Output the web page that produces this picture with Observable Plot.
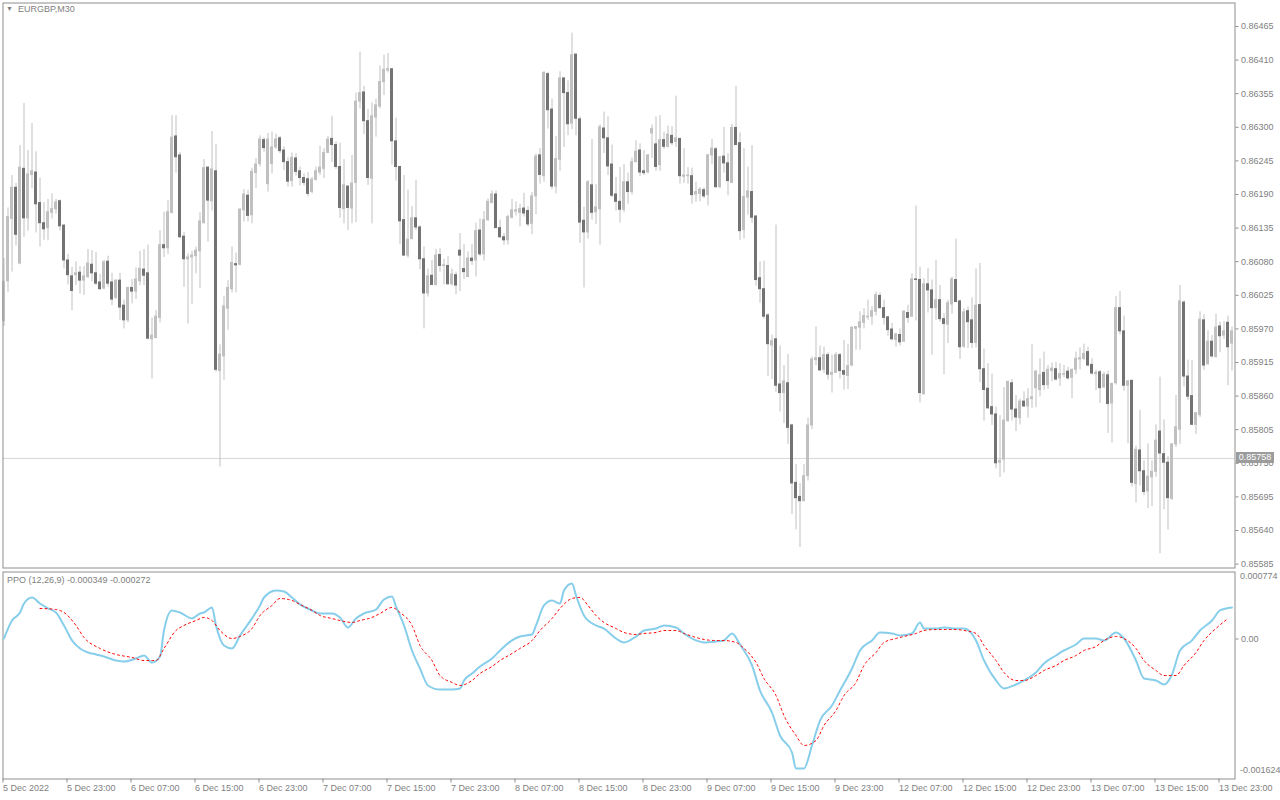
<!DOCTYPE html>
<html><head><meta charset="utf-8">
<script src="https://cdn.jsdelivr.net/npm/d3@7"></script>
<script src="https://cdn.jsdelivr.net/npm/@observablehq/plot@0.6"></script>
<style>
html,body{margin:0;padding:0;background:#fff;}
body{width:1280px;height:800px;overflow:hidden;position:relative;font-family:"Liberation Sans",Arial,sans-serif;}
#main,#ppo{position:absolute;left:0;}
#main{top:0;} #ppo{top:570px;}
.lbl{position:absolute;font-size:9px;color:#808080;white-space:nowrap;line-height:11px;}
#bid{position:absolute;left:1236px;width:38px;height:11px;background:#9c9c9c;color:#fff;font-size:9px;line-height:11px;text-align:center;}
</style></head><body>
<div id="main"></div>
<div id="ppo"></div>
<div class="lbl" id="title" style="left:6px;top:4px;"><span style="font-size:7px;position:relative;top:-1px;">&#9660;</span>&nbsp;&nbsp;<span id="sym"></span></div>
<div class="lbl" id="ppoTitle" style="left:7px;top:575px;"></div>
<div id="bid"></div>
<script>
// ---- data (EURGBP, M30) ----
const symbolTitle = "EURGBP,M30";
const open = [0.85983,0.86048,0.86150,0.86201,0.86077,0.86232,0.86151,0.86222,0.86226,0.86176,0.86143,0.86135,0.86160,0.86166,0.86179,0.86139,0.86082,0.86056,0.86058,0.86062,0.86049,0.86055,0.86075,0.86061,0.86046,0.86036,0.86080,0.86046,0.86021,0.86049,0.86008,0.85984,0.86037,0.86031,0.86048,0.86067,0.86061,0.85953,0.85955,0.85988,0.86107,0.86102,0.86160,0.86285,0.86254,0.86121,0.86084,0.86087,0.86089,0.86097,0.86143,0.86234,0.86179,0.86228,0.85901,0.85925,0.86003,0.86035,0.86076,0.86075,0.86164,0.86188,0.86156,0.86225,0.86240,0.86279,0.86207,0.86240,0.86267,0.86282,0.86262,0.86243,0.86212,0.86249,0.86228,0.86217,0.86215,0.86194,0.86214,0.86226,0.86232,0.86258,0.86281,0.86271,0.86235,0.86166,0.86203,0.86167,0.86209,0.86342,0.86357,0.86310,0.86216,0.86316,0.86334,0.86374,0.86393,0.86395,0.86277,0.86235,0.86148,0.86090,0.86117,0.86151,0.86136,0.86084,0.86028,0.86057,0.86042,0.86091,0.86073,0.86073,0.86043,0.86058,0.86098,0.86068,0.86055,0.86085,0.86082,0.86131,0.86092,0.86148,0.86176,0.86190,0.86135,0.86120,0.86115,0.86152,0.86162,0.86160,0.86167,0.86163,0.86142,0.86187,0.86254,0.86220,0.86387,0.86329,0.86203,0.86247,0.86380,0.86356,0.86306,0.86419,0.86313,0.86147,0.86128,0.86205,0.86161,0.86166,0.86298,0.86282,0.86239,0.86190,0.86178,0.86165,0.86210,0.86194,0.86243,0.86262,0.86228,0.86226,0.86290,0.86272,0.86238,0.86279,0.86268,0.86286,0.86276,0.86281,0.86219,0.86220,0.86220,0.86190,0.86191,0.86197,0.86189,0.86254,0.86264,0.86202,0.86252,0.86241,0.86209,0.86299,0.86274,0.86132,0.86185,0.86194,0.86154,0.86053,0.86035,0.85992,0.85943,0.85953,0.85879,0.85865,0.85881,0.85812,0.85718,0.85695,0.85688,0.85729,0.85812,0.85919,0.85922,0.85903,0.85927,0.85895,0.85898,0.85927,0.85901,0.85893,0.85910,0.85970,0.85972,0.85980,0.85989,0.85990,0.85998,0.86024,0.86004,0.85989,0.85969,0.85952,0.85960,0.85949,0.85996,0.85990,0.86051,0.86050,0.85863,0.86043,0.86033,0.86004,0.86017,0.85986,0.85977,0.86010,0.86050,0.86015,0.85941,0.85999,0.85984,0.85947,0.86009,0.85904,0.85872,0.85842,0.85830,0.85751,0.85756,0.85819,0.85881,0.85838,0.85824,0.85851,0.85843,0.85855,0.85873,0.85870,0.85898,0.85878,0.85901,0.85904,0.85889,0.85895,0.85900,0.85890,0.85903,0.85920,0.85921,0.85932,0.85911,0.85896,0.85899,0.85874,0.85894,0.85848,0.85881,0.86004,0.85966,0.85877,0.85885,0.85716,0.85771,0.85737,0.85704,0.85727,0.85736,0.85802,0.85765,0.85751,0.85692,0.85781,0.85805,0.86013,0.85892,0.85860,0.85813,0.85829,0.85984,0.85912,0.85949,0.85924,0.85974,0.85959,0.85980,0.85946];
const high = [0.86085,0.86168,0.86221,0.86208,0.86270,0.86339,0.86262,0.86306,0.86260,0.86217,0.86177,0.86182,0.86191,0.86182,0.86181,0.86141,0.86092,0.86071,0.86080,0.86072,0.86072,0.86100,0.86098,0.86095,0.86059,0.86082,0.86089,0.86061,0.86050,0.86061,0.86017,0.86038,0.86051,0.86070,0.86097,0.86100,0.86107,0.85988,0.86000,0.86131,0.86161,0.86180,0.86319,0.86319,0.86259,0.86128,0.86093,0.86097,0.86104,0.86160,0.86247,0.86235,0.86293,0.86272,0.85944,0.86023,0.86049,0.86104,0.86094,0.86167,0.86198,0.86197,0.86233,0.86249,0.86286,0.86283,0.86290,0.86292,0.86289,0.86285,0.86268,0.86250,0.86258,0.86257,0.86235,0.86224,0.86226,0.86218,0.86235,0.86269,0.86265,0.86285,0.86318,0.86276,0.86274,0.86247,0.86204,0.86254,0.86356,0.86423,0.86367,0.86329,0.86340,0.86346,0.86400,0.86418,0.86421,0.86396,0.86315,0.86236,0.86221,0.86197,0.86170,0.86213,0.86139,0.86104,0.86068,0.86082,0.86100,0.86101,0.86084,0.86088,0.86068,0.86063,0.86126,0.86108,0.86096,0.86108,0.86143,0.86150,0.86162,0.86183,0.86196,0.86196,0.86148,0.86126,0.86156,0.86182,0.86178,0.86174,0.86192,0.86170,0.86193,0.86256,0.86265,0.86391,0.86390,0.86346,0.86285,0.86391,0.86381,0.86376,0.86454,0.86420,0.86317,0.86169,0.86213,0.86280,0.86206,0.86304,0.86325,0.86317,0.86271,0.86218,0.86234,0.86239,0.86225,0.86250,0.86278,0.86273,0.86262,0.86255,0.86304,0.86317,0.86319,0.86292,0.86302,0.86301,0.86351,0.86282,0.86265,0.86234,0.86233,0.86210,0.86201,0.86201,0.86256,0.86280,0.86267,0.86252,0.86300,0.86257,0.86305,0.86367,0.86291,0.86265,0.86235,0.86270,0.86155,0.86080,0.86081,0.85995,0.85960,0.86140,0.85942,0.85910,0.85928,0.85814,0.85748,0.85717,0.85748,0.85824,0.85924,0.85973,0.85942,0.85940,0.85931,0.85927,0.85931,0.85930,0.85951,0.85945,0.85973,0.85974,0.85998,0.86003,0.86017,0.86006,0.86030,0.86029,0.86017,0.85990,0.85979,0.85963,0.85970,0.86000,0.86009,0.86060,0.86171,0.86071,0.86052,0.86069,0.86050,0.86082,0.86041,0.85995,0.86017,0.86055,0.86117,0.86017,0.86003,0.86006,0.86021,0.86068,0.86077,0.85937,0.85913,0.85896,0.85842,0.85828,0.85874,0.85885,0.85887,0.85861,0.85855,0.85867,0.85872,0.85944,0.85902,0.85921,0.85932,0.85910,0.85914,0.85915,0.85913,0.85910,0.85907,0.85904,0.85932,0.85939,0.85945,0.85940,0.85921,0.85902,0.85902,0.85899,0.85901,0.85881,0.86023,0.86031,0.85991,0.85886,0.85886,0.85778,0.85837,0.85754,0.85782,0.85754,0.85813,0.85891,0.85821,0.85761,0.85782,0.85861,0.86041,0.86016,0.85919,0.85918,0.85833,0.85998,0.85993,0.85967,0.85959,0.85994,0.85981,0.85982,0.85991,0.85973];
const low = [0.85974,0.86030,0.86063,0.86106,0.86075,0.86120,0.86130,0.86199,0.86127,0.86104,0.86115,0.86115,0.86150,0.86158,0.86130,0.86068,0.86042,0.86000,0.86041,0.86027,0.86025,0.86052,0.86047,0.86041,0.86033,0.86034,0.86038,0.86008,0.86018,0.85984,0.85970,0.85980,0.86011,0.86018,0.86041,0.86041,0.85952,0.85888,0.85954,0.85980,0.86087,0.86092,0.86158,0.86225,0.86118,0.86038,0.85978,0.86010,0.86060,0.86036,0.86142,0.86112,0.86163,0.85899,0.85744,0.85886,0.85968,0.86029,0.86029,0.86073,0.86145,0.86145,0.86142,0.86200,0.86235,0.86259,0.86194,0.86224,0.86264,0.86257,0.86229,0.86202,0.86202,0.86220,0.86204,0.86204,0.86186,0.86191,0.86212,0.86221,0.86216,0.86257,0.86242,0.86231,0.86151,0.86142,0.86131,0.86142,0.86144,0.86330,0.86288,0.86205,0.86142,0.86284,0.86330,0.86352,0.86389,0.86238,0.86212,0.86108,0.86089,0.86086,0.86116,0.86131,0.86067,0.85970,0.86022,0.86041,0.86040,0.86063,0.86042,0.86042,0.86040,0.86026,0.86031,0.86051,0.86054,0.86074,0.86055,0.86088,0.86081,0.86146,0.86175,0.86134,0.86118,0.86107,0.86107,0.86150,0.86155,0.86137,0.86153,0.86137,0.86124,0.86157,0.86207,0.86210,0.86297,0.86198,0.86191,0.86228,0.86267,0.86286,0.86296,0.86286,0.86110,0.86037,0.86117,0.86148,0.86141,0.86107,0.86257,0.86221,0.86185,0.86163,0.86143,0.86160,0.86174,0.86189,0.86242,0.86219,0.86221,0.86224,0.86249,0.86228,0.86228,0.86264,0.86266,0.86270,0.86267,0.86207,0.86208,0.86207,0.86174,0.86177,0.86178,0.86183,0.86171,0.86239,0.86200,0.86200,0.86225,0.86188,0.86208,0.86270,0.86115,0.86117,0.86156,0.86143,0.86040,0.86012,0.85986,0.85892,0.85887,0.85866,0.85834,0.85815,0.85781,0.85666,0.85641,0.85612,0.85687,0.85721,0.85805,0.85910,0.85901,0.85897,0.85886,0.85865,0.85897,0.85888,0.85870,0.85871,0.85908,0.85935,0.85935,0.85970,0.85984,0.85976,0.85991,0.86002,0.85976,0.85958,0.85950,0.85940,0.85942,0.85949,0.85979,0.85989,0.85983,0.85849,0.85862,0.85996,0.85927,0.85984,0.85981,0.85895,0.85946,0.85994,0.86013,0.85920,0.85938,0.85938,0.85938,0.85939,0.85882,0.85819,0.85838,0.85812,0.85741,0.85727,0.85734,0.85817,0.85819,0.85802,0.85813,0.85842,0.85824,0.85840,0.85841,0.85859,0.85869,0.85871,0.85884,0.85885,0.85876,0.85890,0.85886,0.85856,0.85895,0.85903,0.85918,0.85908,0.85894,0.85869,0.85848,0.85873,0.85799,0.85783,0.85878,0.85960,0.85868,0.85782,0.85711,0.85685,0.85713,0.85697,0.85676,0.85679,0.85727,0.85602,0.85674,0.85641,0.85689,0.85776,0.85781,0.85875,0.85853,0.85812,0.85797,0.85825,0.85902,0.85911,0.85922,0.85922,0.85931,0.85953,0.85877,0.85901];
const close = [0.86047,0.86153,0.86201,0.86124,0.86234,0.86151,0.86223,0.86228,0.86174,0.86143,0.86133,0.86161,0.86166,0.86177,0.86138,0.86082,0.86058,0.86032,0.86061,0.86049,0.86056,0.86077,0.86061,0.86044,0.86035,0.86079,0.86044,0.86018,0.86049,0.86005,0.85984,0.86037,0.86031,0.86051,0.86068,0.86057,0.85954,0.85959,0.85990,0.86107,0.86102,0.86161,0.86283,0.86251,0.86120,0.86084,0.86087,0.86090,0.86098,0.86146,0.86233,0.86180,0.86231,0.85903,0.85928,0.86007,0.86037,0.86078,0.86074,0.86165,0.86190,0.86155,0.86227,0.86239,0.86280,0.86266,0.86280,0.86267,0.86280,0.86261,0.86243,0.86211,0.86250,0.86227,0.86217,0.86209,0.86191,0.86214,0.86228,0.86234,0.86258,0.86280,0.86271,0.86235,0.86168,0.86205,0.86168,0.86208,0.86342,0.86356,0.86310,0.86217,0.86318,0.86336,0.86374,0.86394,0.86395,0.86277,0.86235,0.86146,0.86090,0.86116,0.86151,0.86136,0.86084,0.86028,0.86056,0.86042,0.86090,0.86073,0.86074,0.86043,0.86059,0.86041,0.86090,0.86063,0.86085,0.86081,0.86130,0.86092,0.86148,0.86178,0.86190,0.86135,0.86120,0.86115,0.86153,0.86164,0.86164,0.86166,0.86159,0.86141,0.86187,0.86252,0.86222,0.86389,0.86328,0.86203,0.86248,0.86380,0.86356,0.86305,0.86418,0.86314,0.86144,0.86128,0.86210,0.86160,0.86169,0.86300,0.86282,0.86236,0.86188,0.86178,0.86165,0.86210,0.86194,0.86243,0.86260,0.86226,0.86225,0.86254,0.86297,0.86235,0.86279,0.86268,0.86288,0.86274,0.86282,0.86220,0.86221,0.86221,0.86189,0.86194,0.86198,0.86187,0.86254,0.86265,0.86202,0.86251,0.86241,0.86212,0.86299,0.86271,0.86130,0.86186,0.86195,0.86152,0.86050,0.86035,0.85990,0.85945,0.85950,0.85877,0.85865,0.85884,0.85808,0.85717,0.85693,0.85688,0.85729,0.85812,0.85920,0.85922,0.85902,0.85927,0.85895,0.85898,0.85927,0.85901,0.85895,0.85909,0.85972,0.85973,0.85981,0.85991,0.85990,0.85999,0.86025,0.86004,0.85988,0.85968,0.85953,0.85961,0.85948,0.85998,0.85988,0.86051,0.86050,0.85865,0.86043,0.86033,0.86004,0.86017,0.85986,0.85978,0.86012,0.86051,0.86014,0.85940,0.85997,0.85981,0.85947,0.86008,0.85904,0.85870,0.85840,0.85830,0.85750,0.85754,0.85820,0.85883,0.85838,0.85825,0.85851,0.85843,0.85855,0.85858,0.85900,0.85894,0.85878,0.85903,0.85905,0.85887,0.85896,0.85896,0.85889,0.85903,0.85921,0.85922,0.85929,0.85910,0.85897,0.85898,0.85873,0.85895,0.85847,0.85880,0.86004,0.85966,0.85877,0.85884,0.85718,0.85772,0.85737,0.85703,0.85728,0.85736,0.85787,0.85766,0.85751,0.85693,0.85781,0.85809,0.86015,0.85892,0.85859,0.85813,0.85832,0.85985,0.85910,0.85949,0.85925,0.85972,0.85958,0.85966,0.85940,0.85966];

const priceTicks = [0.86465,0.86410,0.86355,0.86300,0.86245,0.86190,0.86135,0.86080,0.86025,0.85970,0.85915,0.85860,0.85805,0.85750,0.85695,0.85640,0.85585];
const bidPrice = 0.85758;

const timeTickBars = [0,16,32,48,64,80,96,112,128,144,160,176,192,208,224,240,256,272,288,304];
const timeLabels = ["5 Dec 2022","5 Dec 23:00","6 Dec 07:00","6 Dec 15:00","6 Dec 23:00","7 Dec 07:00","7 Dec 15:00","7 Dec 23:00","8 Dec 07:00","8 Dec 15:00","8 Dec 23:00","9 Dec 07:00","9 Dec 15:00","9 Dec 23:00","12 Dec 07:00","12 Dec 15:00","12 Dec 23:00","13 Dec 07:00","13 Dec 15:00","13 Dec 23:00"];

const ppoTitle = "PPO (12,26,9) -0.000349 -0.000272";
const ppoMax = 0.000774, ppoMin = -0.001624;

const ppoBar = [0,2,4,5,7,9,11,13,15,17,19,21,23,25,28,30,33,35,37,39,40,42,44,47,49,50,52,53,55,57,59,62,64,65,68,70,72,74,77,79,82,84,86,88,90,93,95,97,98,100,102,104,106,109,112,114,115,117,119,122,124,127,129,132,133,135,137,139,140,142,143,145,148,150,153,155,158,160,163,165,168,170,173,175,178,180,182,184,187,189,192,194,197,198,200,202,204,207,209,212,214,217,219,222,224,227,229,230,233,235,238,240,243,245,248,250,253,255,258,260,263,265,268,270,273,275,278,280,283,285,288,290,292,294,297,299,302,304,307];
const ppoValue = [0.000006,0.000228,0.000327,0.000438,0.000512,0.000438,0.000377,0.000327,0.000167,-0.000018,-0.000118,-0.000167,-0.000191,-0.000216,-0.000265,-0.000278,-0.000241,-0.000204,-0.000291,-0.000216,0.000105,0.000352,0.000327,0.000254,0.000315,0.000327,0.000389,0.000167,-0.000081,-0.000118,0.000043,0.000254,0.000414,0.000512,0.000599,0.000587,0.000512,0.000427,0.000352,0.000315,0.000315,0.000265,0.000142,0.000254,0.000315,0.000364,0.000488,0.000525,0.000401,0.000167,-0.000142,-0.000364,-0.000574,-0.000624,-0.000624,-0.000611,-0.000512,-0.000427,-0.000340,-0.000241,-0.000142,-0.000018,0.000031,0.000055,0.000167,0.000414,0.000475,0.000438,0.000599,0.000685,0.000537,0.000291,0.000167,0.000129,0.000006,-0.000043,0.000031,0.000105,0.000129,0.000167,0.000142,0.000068,-0.000018,-0.000043,-0.000031,-0.000018,0.000068,-0.000068,-0.000327,-0.000637,-0.000908,-0.001192,-0.001402,-0.001599,-0.001599,-0.001316,-0.001007,-0.000821,-0.000637,-0.000364,-0.000142,-0.000018,0.000081,0.000068,0.000043,0.000068,0.000204,0.000129,0.000129,0.000142,0.000129,0.000129,-0.000018,-0.000265,-0.000512,-0.000611,-0.000562,-0.000512,-0.000414,-0.000302,-0.000204,-0.000142,-0.000068,0.000006,0.000006,-0.000018,0.000081,0.000006,-0.000265,-0.000488,-0.000512,-0.000562,-0.000438,-0.000142,-0.000018,0.000105,0.000228,0.000352,0.000389];

const signalBar = [9,13,15,18,20,24,28,32,35,38,40,43,45,48,50,52,54,57,59,62,64,67,69,72,74,77,79,82,84,87,89,92,94,97,99,102,104,107,109,112,114,117,119,122,124,127,129,132,134,137,139,142,144,146,148,150,153,155,158,160,163,165,168,170,173,175,178,180,183,185,188,190,193,195,198,200,203,205,208,210,213,215,218,220,223,225,228,230,233,235,238,240,243,245,248,250,253,255,258,260,263,265,268,270,273,275,278,280,283,285,288,290,293,295,298,300,303,306];
const signalValue = [0.000377,0.000364,0.000327,0.000167,0.000019,-0.000117,-0.000191,-0.000228,-0.000266,-0.000266,-0.000117,0.000105,0.000167,0.000228,0.000266,0.000228,0.000105,0.000006,0.000031,0.000130,0.000290,0.000414,0.000500,0.000475,0.000426,0.000352,0.000290,0.000253,0.000228,0.000204,0.000228,0.000266,0.000315,0.000389,0.000327,0.000167,-0.000080,-0.000266,-0.000451,-0.000537,-0.000574,-0.000513,-0.000426,-0.000340,-0.000266,-0.000179,-0.000117,-0.000019,0.000105,0.000253,0.000377,0.000500,0.000513,0.000414,0.000290,0.000204,0.000130,0.000080,0.000056,0.000068,0.000080,0.000105,0.000105,0.000068,0.000019,-0.000006,-0.000019,-0.000019,-0.000043,-0.000117,-0.000290,-0.000488,-0.000698,-0.000945,-0.001192,-0.001315,-0.001254,-0.001068,-0.000883,-0.000698,-0.000537,-0.000327,-0.000167,-0.000043,0.000006,0.000031,0.000068,0.000105,0.000117,0.000117,0.000117,0.000105,0.000068,-0.000080,-0.000266,-0.000414,-0.000513,-0.000513,-0.000451,-0.000389,-0.000327,-0.000266,-0.000204,-0.000142,-0.000093,-0.000019,0.000031,0.000006,-0.000117,-0.000266,-0.000389,-0.000451,-0.000451,-0.000327,-0.000167,-0.000019,0.000130,0.000253];

// ---- build ----
const candles = open.map((o, i) => ({i, open: o, high: high[i], low: low[i], close: close[i]}));
const ppo = ppoBar.map((b, k) => ({bar: b, v: ppoValue[k]}));
const signal = signalBar.map((b, k) => ({bar: b, v: signalValue[k]}));

const bullFill = "#c0c0c0", bearFill = "#737373", wickColor = "#c0c0c0", frameColor = "#8e8e8e";
const baseStyle = {background: "transparent", fontFamily: "'Liberation Sans', Arial, sans-serif", fontSize: "9px", color: "#808080", overflow: "visible"};
const xCfg = {domain: [0, open.length - 1], range: [3.5, 1231.5], label: null};

const main = Plot.plot({
  width: 1280, height: 570,
  marginLeft: 2.5, marginRight: 45.5, marginTop: 2.5, marginBottom: 2.5,
  style: baseStyle,
  x: {...xCfg, axis: null},
  y: {domain: [priceTicks[priceTicks.length - 1], priceTicks[0]], range: [563.6, 26], axis: null, label: null},
  marks: [
    Plot.ruleY([bidPrice], {stroke: "#d6d6d6"}),
    Plot.ruleX(candles, {x: "i", y1: "low", y2: "high", stroke: wickColor, strokeWidth: 1}),
    Plot.rect(candles, {x1: d => d.i - 0.375, x2: d => d.i + 0.375, y1: "open", y2: "close",
      fill: d => d.close >= d.open ? bullFill : bearFill, insetTop: -0.5, insetBottom: -0.5}),
    Plot.frame({stroke: frameColor}),
    Plot.axisY(priceTicks, {anchor: "right", tickSize: 3, tickPadding: 3, label: null, tickFormat: d => d.toFixed(5), stroke: frameColor})
  ]
});
document.getElementById("main").appendChild(main);

const ppoChart = Plot.plot({
  width: 1280, height: 230,
  marginLeft: 2.5, marginRight: 45.5, marginTop: 1.5, marginBottom: 21.5,
  style: baseStyle,
  x: {...xCfg},
  y: {domain: [ppoMin, ppoMax], range: [200, 5.8], label: null},
  marks: [
    Plot.frame({stroke: frameColor}),
    Plot.line(ppo, {x: "bar", y: "v", stroke: "#87ceeb", strokeWidth: 2, curve: "monotone-x"}),
    Plot.line(signal, {x: "bar", y: "v", stroke: "#ff0000", strokeWidth: 1, strokeDasharray: "2,3", curve: "monotone-x"}),
    Plot.axisY([0], {anchor: "right", tickSize: 3, tickPadding: 3, label: null, tickFormat: () => "0.00", stroke: frameColor}),
    Plot.axisY([ppoMax, ppoMin], {anchor: "right", tickSize: 0, tickPadding: 5, label: null, tickFormat: d => d.toFixed(6)}),
    Plot.axisX(timeTickBars, {anchor: "bottom", tickSize: 4, tickPadding: 2, textAnchor: "start", dx: -1, label: null,
      tickFormat: d => timeLabels[timeTickBars.indexOf(d)], stroke: frameColor})
  ]
});
document.getElementById("ppo").appendChild(ppoChart);

document.getElementById("sym").textContent = symbolTitle;
document.getElementById("ppoTitle").textContent = ppoTitle;
const bidY = main.scale("y").apply(bidPrice);
const bid = document.getElementById("bid");
bid.textContent = bidPrice.toFixed(5);
bid.style.top = (bidY - 5.5) + "px";
</script>
</body></html>
